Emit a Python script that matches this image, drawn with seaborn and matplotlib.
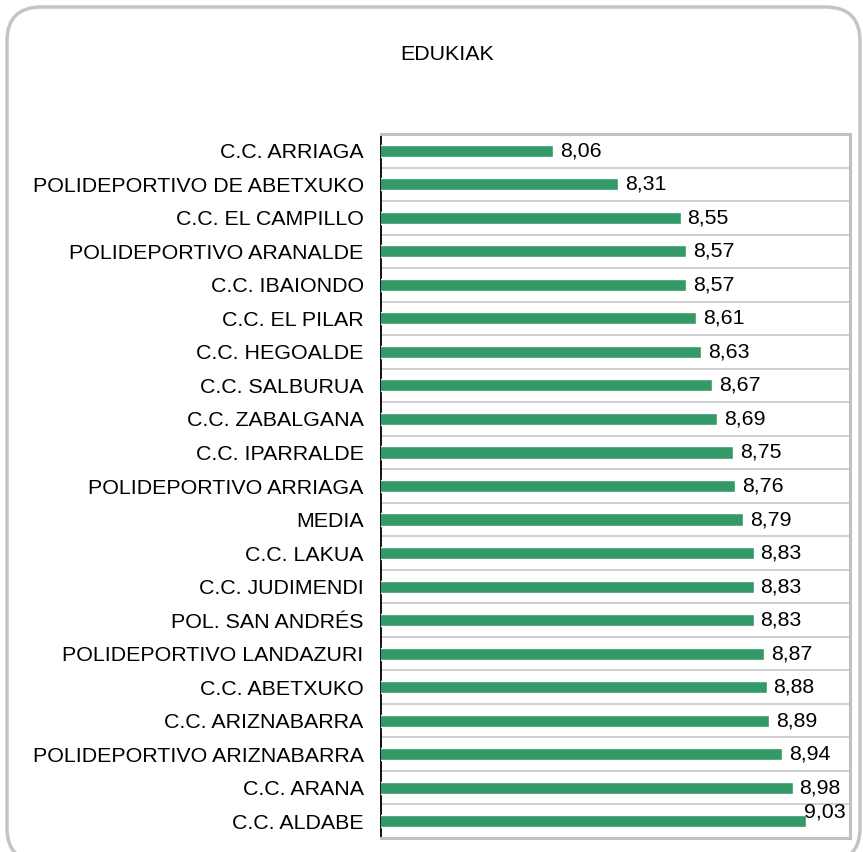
import numpy as np
import pandas as pd
import matplotlib
matplotlib.use("Agg")
import matplotlib.pyplot as plt
from matplotlib.patches import FancyBboxPatch
import seaborn as sns

# data, top to bottom as in the chart
centros = [
    "C.C. ARRIAGA", "POLIDEPORTIVO DE ABETXUKO", "C.C. EL CAMPILLO",
    "POLIDEPORTIVO ARANALDE", "C.C. IBAIONDO", "C.C. EL PILAR",
    "C.C. HEGOALDE", "C.C. SALBURUA", "C.C. ZABALGANA", "C.C. IPARRALDE",
    "POLIDEPORTIVO ARRIAGA", "MEDIA", "C.C. LAKUA", "C.C. JUDIMENDI",
    "POL. SAN ANDRÉS", "POLIDEPORTIVO LANDAZURI", "C.C. ABETXUKO",
    "C.C. ARIZNABARRA", "POLIDEPORTIVO ARIZNABARRA", "C.C. ARANA",
    "C.C. ALDABE",
]
notas = [8.06, 8.31, 8.55, 8.57, 8.57, 8.61, 8.63, 8.67, 8.69, 8.75,
         8.76, 8.79, 8.83, 8.83, 8.83, 8.87, 8.88, 8.89, 8.94, 8.98, 9.03]
titulo = "EDUKIAK"

df = pd.DataFrame({"centro": centros, "nota": notas})

sns.set_style("white")
plt.rcParams["font.family"] = ["Liberation Sans", "DejaVu Sans"]
plt.rcParams["text.color"] = "black"
plt.rcParams["ytick.color"] = "black"
fs = 15.4

fig = plt.figure(figsize=(8.63, 8.52), dpi=100)

# rounded outer border of the chart (bottom edge runs off the picture)
borde = FancyBboxPatch((7 / 863, -10 / 852), 853 / 863, 855 / 852,
                       boxstyle="round,pad=0,rounding_size=0.04",
                       transform=fig.transFigure, facecolor="white",
                       edgecolor="#c4c4c4", linewidth=2.5, zorder=0)
fig.patches.append(borde)

ax = fig.add_axes([381 / 863, 1 - 838 / 852, 469 / 863, 704 / 852])
ax.set_zorder(2)
ax.set_facecolor("none")

sns.barplot(data=df, x="nota", y="centro", orient="h", color="#339966",
            width=0.36, saturation=1, ax=ax, zorder=3)

ax.set_xlim(7.4, 9.2)
ax.set_ylim(len(centros) - 0.5, -0.5)
ax.set_xlabel("")
ax.set_ylabel("")
ax.set_xticks([])

ax.tick_params(axis="y", which="major", length=0, labelsize=fs, pad=12.5)
ax.set_yticks(np.arange(len(centros) + 1) - 0.5, minor=True)
ax.tick_params(axis="y", which="minor", length=5, width=1.2, color="black",
               direction="out")
ax.grid(True, axis="y", which="minor", color="#c8c8c8", linewidth=1.2, zorder=0)
ax.grid(False, axis="y", which="major")

for lado in ["top", "right", "bottom"]:
    ax.spines[lado].set_color("#c0c0c0")
    ax.spines[lado].set_linewidth(2.2)
ax.spines["left"].set_color("black")
ax.spines["left"].set_linewidth(1.3)

# value labels with decimal comma
for i, v in enumerate(notas):
    txt = f"{v:.2f}".replace(".", ",")
    if i == len(notas) - 1:
        # last label pushed up and left so it stays inside the plot
        ax.annotate(txt, (v, i), xytext=(-1.5, 7), textcoords="offset points",
                    ha="left", va="center", fontsize=fs)
    else:
        ax.annotate(txt, (v, i), xytext=(5, 0), textcoords="offset points",
                    ha="left", va="center", fontsize=fs)

fig.text(447 / 863, 1 - 55 / 852, titulo, ha="center", va="center",
         fontsize=fs)

fig.savefig("out.png", dpi=100)
